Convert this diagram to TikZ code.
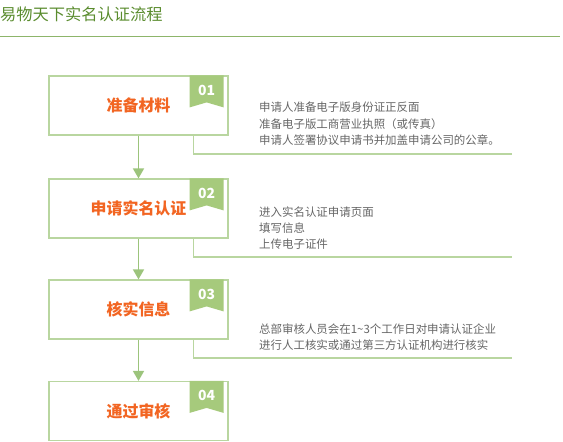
\documentclass[tikz,border=0pt]{standalone}
\usepackage{fontspec}
\setmainfont{Noto Sans CJK SC}
\usetikzlibrary{arrows.meta}

\definecolor{titlegreen}{HTML}{5A8C2E}
\definecolor{rulegreen}{HTML}{8DB56A}
\definecolor{boxgreen}{HTML}{B9D6A0}
\definecolor{arrowgreen}{HTML}{9CC47C}
\definecolor{taggreen}{HTML}{A6CA7C}
\definecolor{steporange}{HTML}{F26522}
\definecolor{descgray}{HTML}{666666}

\tikzset{
  stepbox/.style={draw=boxgreen, line width=1.2bp, fill=white,
    minimum width=179bp, minimum height=59bp, inner sep=0pt,
    text=steporange, font=\fontsize{16}{18}\selectfont\bfseries},
  flow/.style={draw=arrowgreen, line width=1.6bp,
    -{Triangle[width=11bp,length=10bp]}},
  hook/.style={draw=boxgreen, line width=1.2bp},
  tagnum/.style={text=white, font=\fontsize{14}{14}\selectfont\bfseries, inner sep=0pt},
  desc/.style={text=descgray, font=\fontsize{11.5}{16.5}\selectfont,
    align=left, inner sep=0pt, anchor=south west},
}

\begin{document}
\begin{tikzpicture}[x=1bp, y=-1bp]
\useasboundingbox (0,0) rectangle (563,442);

% 标题
\node[anchor=west, inner sep=0pt, text=titlegreen,
  font=\fontsize{16.3}{18}\selectfont] (title) at (0,14) {易物天下实名认证流程};
\coordinate (ruleL) at (0,36.5);
\coordinate (ruleR) at (560,36.5);
\draw[rulegreen, line width=1.8bp] (ruleL) -- (ruleR);

% 四个步骤
\node[stepbox] (s1) at (138.5,105.5) {准备材料};
\node[stepbox] (s2) at (138.5,208.5) {申请实名认证};
\node[stepbox] (s3) at (138.5,309.5) {核实信息};
\node[stepbox] (s4) at (138.5,411) {通过审核};

% 编号标签
\fill[taggreen] ([xshift=-39bp]s1.north east) -- ++(34,0) -- ++(0,32) -- ++(-17,-5) -- ++(-17,5) -- cycle;
\fill[taggreen] ([xshift=-39bp]s2.north east) -- ++(34,0) -- ++(0,32) -- ++(-17,-5) -- ++(-17,5) -- cycle;
\fill[taggreen] ([xshift=-39bp]s3.north east) -- ++(34,0) -- ++(0,32) -- ++(-17,-5) -- ++(-17,5) -- cycle;
\fill[taggreen] ([xshift=-39bp]s4.north east) -- ++(34,0) -- ++(0,32) -- ++(-17,-5) -- ++(-17,5) -- cycle;
\node[tagnum] (n1) at ([xshift=-22bp,yshift=-15bp]s1.north east) {01};
\node[tagnum] (n2) at ([xshift=-22bp,yshift=-15bp]s2.north east) {02};
\node[tagnum] (n3) at ([xshift=-22bp,yshift=-15bp]s3.north east) {03};
\node[tagnum] (n4) at ([xshift=-22bp,yshift=-15bp]s4.north east) {04};

% 箭头
\draw[flow] (s1) -- (s2);
\draw[flow] (s2) -- (s3);
\draw[flow] (s3) -- (s4);

% 说明的折线
\coordinate (e1) at (512,154);
\coordinate (e2) at (512,257);
\coordinate (e3) at (512,358);
\draw[hook] ([xshift=-35bp]s1.south east) |- (e1);
\draw[hook] ([xshift=-35bp]s2.south east) |- (e2);
\draw[hook] ([xshift=-35bp]s3.south east) |- (e3);

% 说明文字
\node[desc] (d1) at (259,146) {申请人准备电子版身份证正反面\\准备电子版工商营业执照（或传真）\\申请人签署协议申请书并加盖申请公司的公章。};
\node[desc] (d2) at (259,250) {进入实名认证申请页面\\填写信息\\上传电子证件};
\node[desc] (d3) at (259,351) {总部审核人员会在1\char`\~3个工作日对申请认证企业\\进行人工核实或通过第三方认证机构进行核实};
\end{tikzpicture}
\end{document}
